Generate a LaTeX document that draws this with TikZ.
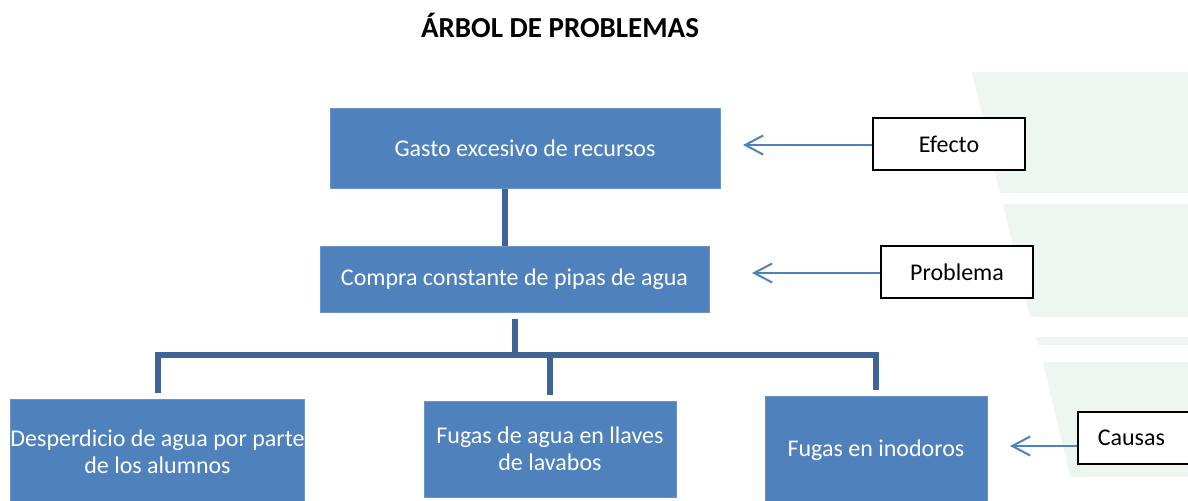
\documentclass[tikz,border=0pt]{standalone}
\usepackage{fontspec}
\setmainfont{Carlito}
\usetikzlibrary{arrows.meta}

\definecolor{boxblue}{HTML}{4F81BD}
\definecolor{linkblue}{HTML}{3E6596}
\definecolor{bgmint}{HTML}{EEF6F1}

\tikzset{
  caja/.style={fill=boxblue, draw=boxblue!85!white, line width=0.5pt, text=white,
    inner sep=0pt, align=center, font=\fontsize{12}{13.5}\selectfont},
  etiqueta/.style={fill=white, draw=black, line width=0.75pt, inner sep=0pt,
    minimum width=76pt, minimum height=26pt, font=\fontsize{12}{14}\selectfont},
  rama/.style={linkblue, line width=3pt},
  flecha/.style={boxblue, line width=1pt, -{Straight Barb[length=9pt,width=9.5pt]}},
}

\begin{document}
\begin{tikzpicture}[x=0.5pt, y=-0.5pt]
    \useasboundingbox (0,0) rectangle (1188,500);

    % fondo
    \fill[bgmint] (972,72) -- (1188,72) -- (1188,193) -- (1000,193) -- cycle;
    \fill[bgmint] (1003,204) -- (1188,204) -- (1188,317) -- (1030,317) -- cycle;
    \fill[bgmint] (1036,337) -- (1188,337) -- (1188,345) -- (1038,345) -- cycle;
    \fill[bgmint] (1043,362) -- (1188,362) -- (1188,477) -- (1070,477) -- cycle;

    \node[font=\bfseries\fontsize{14.5}{17}\selectfont] (titulo) at (560,25) {ÁRBOL DE PROBLEMAS};

    % arbol
    \node[caja, minimum width=195pt, minimum height=40pt] (efecto) at (525,148) {Gasto excesivo de recursos};
    \node[caja, minimum width=194.5pt, minimum height=33pt] (problema) at (514.5,279) {Compra constante de pipas de agua};
    \node[caja, minimum width=146.5pt, minimum height=53pt] (causa1) at (157.5,452) {Desperdicio de agua por parte\\de los alumnos};
    \node[caja, minimum width=126pt, minimum height=48pt] (causa2) at (550,449) {Fugas de agua en llaves\\de lavabos};
    \node[caja, minimum width=111pt, minimum height=54pt] (causa3) at (876,450) {Fugas en inodoros};

    \coordinate (nudo) at (514.5,355);
    \draw[rama] ([xshift=-10pt]efecto.south) -- ([xshift=-10pt]efecto.south |- problema.north);
    \draw[rama] ([yshift=-3pt]problema.south) -- (nudo) -| ([yshift=3pt]causa3.north);
    \draw[rama] ([yshift=3pt]causa1.north) |- (nudo) -| ([yshift=3pt]causa2.north);

    % etiquetas
    \node[etiqueta] (lefecto) at (949,144) {Efecto};
    \node[etiqueta] (lproblema) at (957,272) {Problema};
    \node[etiqueta, anchor=west, text width=56pt, inner xsep=10pt, align=left] (lcausas) at (1077,438) {Causas};

    \coordinate (pe) at (743,145);
    \coordinate (pp) at (752,273);
    \coordinate (pc) at (1010,446);
    \draw[flecha] (lefecto.west |- pe) -- (pe);
    \draw[flecha] (lproblema.west |- pp) -- (pp);
    \draw[flecha] (lcausas.west |- pc) -- (pc);
\end{tikzpicture}
\end{document}
